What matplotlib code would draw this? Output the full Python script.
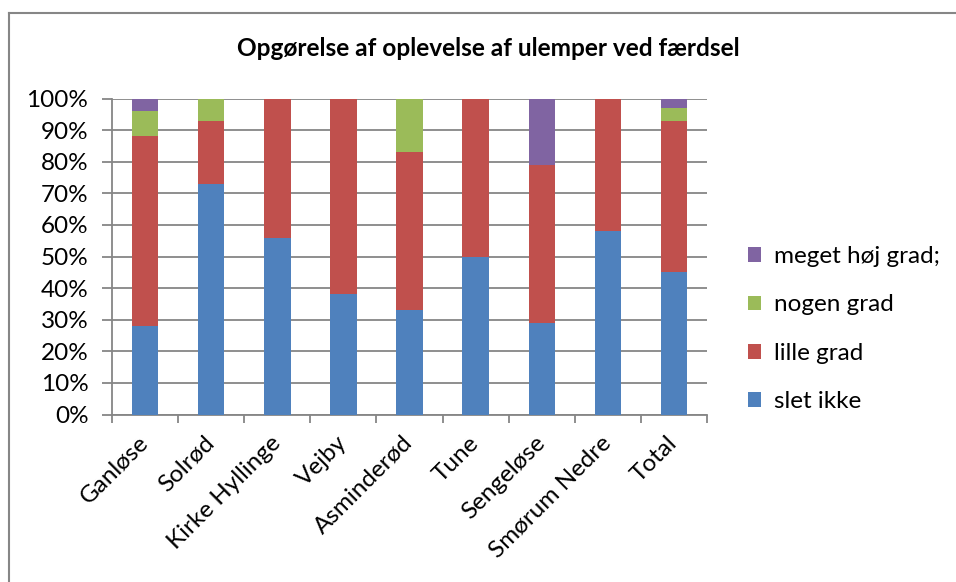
import matplotlib
matplotlib.use("Agg")
import matplotlib.pyplot as plt
from matplotlib.lines import Line2D
from matplotlib.patches import Patch
import numpy as np

plt.rcParams['font.family'] = ['Lato', 'DejaVu Sans']

categories = ["Ganløse", "Solrød", "Kirke Hyllinge", "Vejby", "Asminderød",
              "Tune", "Sengeløse", "Smørum Nedre", "Total"]
slet_ikke = [28, 73, 56, 38, 33, 50, 29, 58, 45]
lille_grad = [60, 20, 44, 62, 50, 50, 50, 42, 48]
nogen_grad = [8, 7, 0, 0, 17, 0, 0, 0, 4]
meget_hoej_grad = [4, 0, 0, 0, 0, 0, 21, 0, 3]

series = [("slet ikke", slet_ikke, "#4F81BD"),
          ("lille grad", lille_grad, "#C0504D"),
          ("nogen grad", nogen_grad, "#9BBB59"),
          ("meget høj grad;", meget_hoej_grad, "#8064A2")]

title = "Opgørelse af oplevelse af ulemper ved færdsel"
yticks = [0, 10, 20, 30, 40, 50, 60, 70, 80, 90, 100]

fig = plt.figure(figsize=(9.56, 5.82), dpi=100)
ax = fig.add_axes([112/956, 1-414.5/582, (707-112)/956, (414.5-98.5)/582])

x = np.arange(len(categories))
bottom = np.zeros(len(categories))
for name, vals, col in series:
    vals = np.array(vals, dtype=float)
    ax.bar(x, vals, 0.4, bottom=bottom, color=col, label=name, zorder=3)
    bottom += vals

ax.set_xlim(-0.5, len(categories) - 0.5)
ax.set_ylim(0, 100)
ax.set_yticks(yticks)
ax.set_yticklabels([f"{v}%" for v in yticks])
ax.yaxis.grid(True, color="#868686", linewidth=1.3, zorder=0)
ax.set_axisbelow(True)

ax.set_xticks(x)
ax.set_xticklabels(categories, rotation=45, ha="right", va="center",
                   rotation_mode="anchor")
ax.set_xticks(np.arange(-0.5, len(categories), 1), minor=True)
ax.tick_params(axis="x", which="major", length=0, pad=18, labelsize=17.5)
ax.tick_params(axis="x", which="minor", length=6, color="#868686", width=1.3)
ax.tick_params(axis="y", length=7, color="#868686", width=1.3, labelsize=17.5, pad=10)

for s in ["top", "right"]:
    ax.spines[s].set_visible(False)
for s in ["left", "bottom"]:
    ax.spines[s].set_color("#868686")
    ax.spines[s].set_linewidth(1.3)

fig.text(488/956, 1-49/582, title, ha="center", va="center",
         fontsize=17.6, fontweight="bold")

handles = [Patch(facecolor=c, label=n) for n, _, c in reversed(series)]
leg = fig.legend(handles=handles, loc="upper left",
                 bbox_to_anchor=(748/956, 1-246/582), frameon=False,
                 fontsize=17.5, handlelength=0.55, handleheight=0.55,
                 handletextpad=0.5, labelspacing=1.13, borderaxespad=0,
                 borderpad=0)

# chart border (top and left visible)
fig.add_artist(Line2D([9/956, 9/956], [0, 1-13/582], color="#868686",
                      linewidth=1.5, transform=fig.transFigure))
fig.add_artist(Line2D([9/956, 1], [1-13/582, 1-13/582], color="#868686",
                      linewidth=1.5, transform=fig.transFigure))

fig.savefig("out.png", dpi=100, facecolor="white")
